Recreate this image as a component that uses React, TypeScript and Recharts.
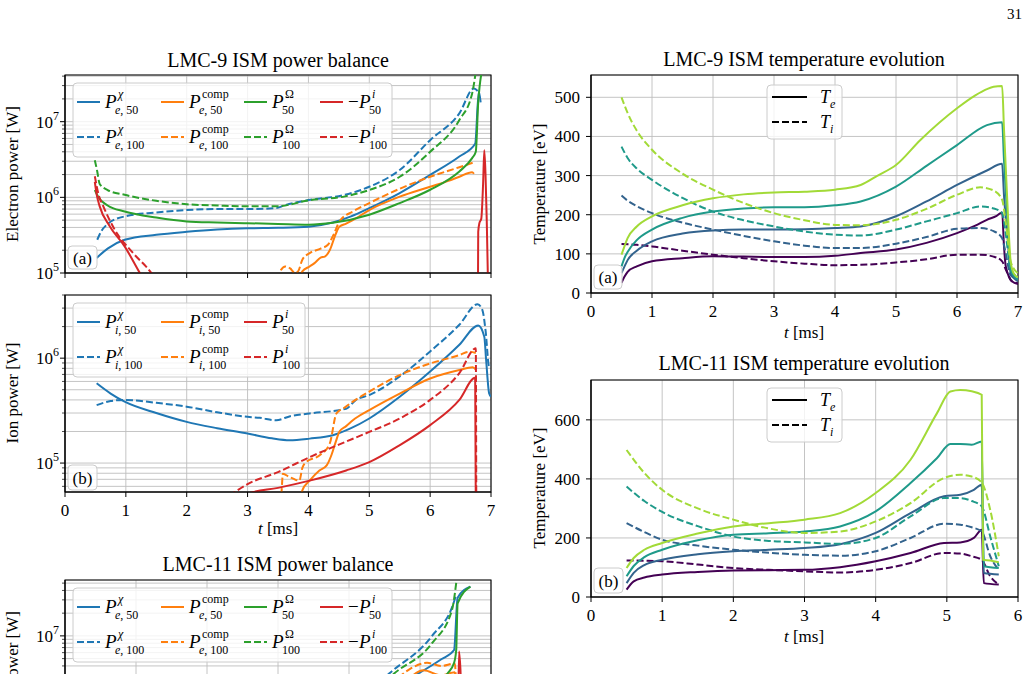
import { LineChart, Line, XAxis, YAxis, CartesianGrid, ReferenceArea } from 'recharts';

type Pt = [number, number];

// LMC-9, electron power balance [W] vs t [ms]
const eChi50: Pt[] = [[0.52, 1.58e5], [0.7, 2.1e5], [0.98, 2.75e5], [1.5, 3.2e5], [2, 3.5e5], [2.5, 3.75e5], [3, 3.9e5], [3.5, 3.95e5], [4, 4.1e5], [4.4, 4.65e5], [4.7, 5.6e5], [5, 7.2e5], [5.5, 1.14e6], [6, 1.98e6], [6.48, 3.47e6], [6.74, 5.1e6], [6.8, 2.5e7], [6.83, 1.8e7]];
const eChi100: Pt[] = [[0.53, 2.75e5], [0.6, 3.6e5], [0.68, 4.3e5], [0.98, 5.6e5], [1.5, 6.3e5], [2, 6.8e5], [2.5, 7e5], [3, 7e5], [3.47, 7.2e5], [3.6, 7.8e5], [4, 9.2e5], [4.6, 1.08e6], [5, 1.38e6], [5.5, 2.3e6], [6, 5.7e6], [6.48, 1.29e7], [6.72, 2.75e7], [6.79, 2.5e7]];
const eComp50: Pt[] = [[3.86, 8e4], [3.9, 1.05e5], [4.02, 1.22e5], [4.1, 1.35e5], [4.2, 1.6e5], [4.27, 1.65e5], [4.35, 2.0e5], [4.45, 3.3e5], [4.51, 4.1e5], [4.62, 4.5e5], [4.73, 5e5], [5, 6.8e5], [5.5, 1.02e6], [6, 1.38e6], [6.3, 1.65e6], [6.48, 1.87e6], [6.69, 2.15e6], [6.72, 2.05e6]];
const eComp100: Pt[] = [[3.52, 8e4], [3.55, 1.1e5], [3.62, 1.22e5], [3.7, 1.15e5], [3.78, 1.0e5], [3.83, 1.05e5], [3.9, 1.5e5], [4.02, 1.83e5], [4.2, 2.1e5], [4.32, 2.36e5], [4.42, 3.3e5], [4.51, 4.8e5], [4.73, 6.5e5], [5, 8.4e5], [5.5, 1.3e6], [6, 1.87e6], [6.48, 2.5e6], [6.72, 2.9e6]];
const eOhm50: Pt[] = [[0.49, 1.25e6], [0.55, 1.0e6], [0.7, 7.8e5], [0.98, 6.5e5], [1.5, 5.4e5], [2, 4.8e5], [2.5, 4.65e5], [3, 4.55e5], [3.5, 4.45e5], [4, 4.35e5], [4.4, 4.6e5], [5, 5.9e5], [5.5, 8.4e5], [6, 1.26e6], [6.48, 2.2e6], [6.69, 3.3e6], [6.75, 4e6], [6.79, 1.8e7], [6.88, 6e7]];
const eOhm100: Pt[] = [[0.49, 3.1e6], [0.53, 2.2e6], [0.57, 1.5e6], [0.7, 1.25e6], [0.98, 1.08e6], [1.5, 9e5], [2, 8.1e5], [2.5, 7.8e5], [3, 7.6e5], [3.47, 7.6e5], [4, 9.1e5], [4.6, 1.03e6], [5, 1.25e6], [5.5, 1.87e6], [6, 4e6], [6.48, 1.05e7], [6.69, 2.36e7], [6.77, 6e7]];
const eIon50a: Pt[] = [[0.49, 1.6e6], [0.52, 1.1e6], [0.57, 7.6e5], [0.74, 4.1e5], [0.98, 2.25e5], [1.23, 1e5], [1.4, 6e4]];
const eIon50b: Pt[] = [[6.785, 5e4], [6.79, 3.5e5], [6.81, 4.6e5], [6.84, 5.2e5], [6.87, 1.5e6], [6.89, 4.2e6], [6.91, 2e6], [6.93, 5e5], [6.955, 5e4]];
const eIon100: Pt[] = [[0.49, 1.9e6], [0.55, 1.1e6], [0.63, 7.6e5], [0.82, 3.7e5], [1.12, 1.83e5], [1.42, 1e5], [1.6, 6e4]];

// LMC-9, ion power balance [W]
const iChi50: Pt[] = [[0.52, 5.76e5], [0.75, 4.6e5], [0.98, 3.85e5], [1.5, 3e5], [2, 2.47e5], [2.5, 2.15e5], [3, 1.91e5], [3.4, 1.72e5], [3.69, 1.65e5], [4.02, 1.71e5], [4.4, 1.84e5], [4.7, 2.15e5], [5, 2.66e5], [5.5, 4.28e5], [6, 7.45e5], [6.48, 1.34e6], [6.79, 2.05e6], [6.89, 1.6e6], [6.92, 9.6e5], [6.97, 4.6e5], [7, 4.3e5]];
const iChi100: Pt[] = [[0.52, 3.57e5], [0.75, 3.9e5], [0.98, 4e5], [1.5, 3.75e5], [2, 3.45e5], [2.5, 3.05e5], [3, 2.76e5], [3.2, 2.7e5], [3.47, 2.56e5], [3.7, 2.8e5], [4.02, 2.97e5], [4.62, 3.3e5], [4.78, 4.0e5], [5, 4.45e5], [5.5, 6.7e5], [6, 1.16e6], [6.48, 2.08e6], [6.78, 3.27e6], [6.86, 2.86e6], [6.91, 1.85e6], [6.97, 8.3e5], [7, 8.5e5]];
const iComp50: Pt[] = [[3.87, 4e4], [3.9, 5.5e4], [4.02, 6.8e4], [4.18, 8.5e4], [4.3, 9.5e4], [4.38, 1.2e5], [4.45, 1.6e5], [4.51, 2.0e5], [4.62, 2.25e5], [4.73, 2.56e5], [5, 3.2e5], [5.5, 4.6e5], [6, 6.4e5], [6.48, 7.7e5], [6.7, 8.2e5], [6.75, 7.8e5]];
const iComp100: Pt[] = [[3.54, 4e4], [3.56, 5.5e4], [3.58, 7.9e4], [3.68, 7.4e4], [3.75, 7.1e4], [3.85, 6.8e4], [3.9, 9e4], [3.96, 1.02e5], [4.18, 1.18e5], [4.35, 1.53e5], [4.46, 2.97e5], [4.6, 3.4e5], [4.73, 3.85e5], [5, 4.8e5], [5.5, 6.9e5], [6, 8.9e5], [6.48, 1.07e6], [6.64, 1.15e6], [6.75, 1.12e6]];
const iIon50: Pt[] = [[2.9, 4.6e4], [3, 5.1e4], [3.5, 5.8e4], [4.02, 6.8e4], [4.62, 8.5e4], [5, 1.02e5], [5.5, 1.48e5], [6, 2.3e5], [6.48, 4e5], [6.74, 6.5e5], [6.755, 1e4]];
const iIon100: Pt[] = [[2.7, 4.9e4], [2.79, 5.3e4], [3, 6.3e4], [3.5, 8.2e4], [4.02, 1.14e5], [4.5, 1.5e5], [5, 1.98e5], [5.5, 2.66e5], [6, 4e5], [6.48, 7.2e5], [6.75, 1.24e6], [6.76, 1e4]];

// LMC-11, electron power balance [W]
const fChi50: Pt[] = [[4.3, 1.5e6], [4.7, 2.3e6], [5.03, 3.4e6], [5.3, 4.9e6], [5.48, 6.5e6], [5.53, 3.2e7], [5.71, 4.5e7]];
const fChi100: Pt[] = [[4.0, 1.1e6], [4.57, 3.2e6], [5.17, 1e7], [5.48, 2.85e7], [5.5, 3.3e7]];
const fComp50: Pt[] = [[4.7, 1.8e6], [5.05, 3.5e6], [5.3, 3e6], [5.49, 3.3e6], [5.52, 1e6]];
const fComp100: Pt[] = [[4.5, 1.8e6], [4.85, 3.6e6], [5.1, 4.4e6], [5.3, 4e6], [5.49, 4.3e6], [5.52, 1e6]];
const fOhm50: Pt[] = [[4.6, 1.1e6], [5.0, 1.8e6], [5.39, 3.2e6], [5.48, 4.4e6], [5.51, 6.5e6], [5.53, 2.7e7], [5.71, 4.5e7]];
const fOhm100: Pt[] = [[4.1, 1.1e6], [4.64, 3.2e6], [5.17, 8e6], [5.45, 2.2e7], [5.52, 6e7]];
const fIon50: Pt[] = [[5.535, 1e6], [5.55, 6.2e6], [5.57, 3.5e6], [5.59, 1e6]];

// LMC-9 temperatures [eV], four cases each (dark -> light)
const teA: Pt[][] = [
  [[0.5, 26], [0.55, 42], [0.6, 54], [0.75, 68], [1, 81], [1.5, 89], [2, 94], [2.5, 93], [3, 92], [3.5, 92], [4, 95], [4.42, 102], [5, 111], [5.5, 128], [6, 153], [6.3, 172], [6.49, 187], [6.65, 197], [6.74, 206], [6.77, 120], [6.8, 68], [6.9, 30], [7, 23]],
  [[0.5, 51], [0.55, 68], [0.6, 84], [0.75, 108], [1, 132], [1.5, 152], [2, 160], [2.5, 162], [3, 162], [3.5, 163], [4, 166], [4.42, 170], [5, 196], [5.5, 234], [6, 276], [6.49, 313], [6.74, 330], [6.77, 250], [6.83, 140], [6.88, 50], [7, 30]],
  [[0.5, 68], [0.55, 90], [0.6, 105], [0.75, 135], [1, 162], [1.5, 192], [2, 208], [2.5, 216], [3, 219], [3.5, 219], [4, 224], [4.42, 234], [5, 272], [5.5, 325], [6, 378], [6.49, 429], [6.74, 436], [6.77, 340], [6.83, 180], [6.88, 60], [6.95, 40], [7, 35]],
  [[0.5, 98], [0.55, 120], [0.6, 140], [0.75, 170], [1, 196], [1.5, 224], [2, 242], [2.5, 252], [3, 257], [3.5, 259], [4, 264], [4.42, 276], [4.7, 300], [5, 327], [5.4, 391], [6, 472], [6.3, 505], [6.49, 521], [6.6, 527], [6.74, 529], [6.77, 420], [6.82, 250], [6.88, 80], [6.93, 50], [7, 40]],
];
const tiA: Pt[][] = [
  [[0.5, 125], [0.75, 123], [1, 119], [1.5, 108], [2, 98], [2.5, 89], [3, 81], [3.5, 75], [4, 71], [4.42, 72], [5, 78], [5.5, 86], [6, 98], [6.38, 98], [6.6, 93], [6.74, 81], [6.8, 60], [6.9, 30], [7, 25]],
  [[0.5, 249], [0.6, 236], [0.75, 222], [1, 204], [1.5, 180], [2, 162], [2.5, 146], [3, 132], [3.5, 121], [4, 115], [4.42, 115], [5, 126], [5.5, 143], [6, 164], [6.38, 166], [6.6, 158], [6.74, 140], [6.8, 100], [6.88, 45], [7, 35]],
  [[0.5, 374], [0.6, 345], [0.75, 318], [1, 289], [1.5, 243], [2, 208], [2.5, 186], [3, 170], [3.5, 157], [4, 149], [4.42, 147], [5, 162], [5.5, 183], [6, 204], [6.38, 221], [6.6, 216], [6.74, 204], [6.8, 150], [6.88, 60], [7, 40]],
  [[0.5, 500], [0.6, 460], [0.75, 415], [1, 366], [1.5, 305], [2, 264], [2.5, 230], [3, 204], [3.5, 186], [4, 174], [4.42, 173], [5, 187], [5.5, 215], [6, 251], [6.38, 270], [6.6, 262], [6.74, 238], [6.8, 180], [6.88, 80], [7, 50]],
];

// LMC-11 temperatures [eV]
const teB: Pt[][] = [
  [[0.5, 25], [0.6, 53], [0.75, 66], [1, 76], [1.5, 85], [2, 90], [2.5, 91], [3, 92], [3.5, 101], [4, 121], [4.49, 149], [4.96, 183], [5.19, 185], [5.38, 200], [5.49, 228], [5.52, 47], [5.73, 42]],
  [[0.5, 47], [0.6, 82], [0.75, 108], [1, 126], [1.5, 145], [2, 155], [2.5, 160], [3, 166], [3.5, 179], [4, 217], [4.49, 284], [4.96, 341], [5.19, 346], [5.38, 363], [5.49, 380], [5.52, 81], [5.73, 76]],
  [[0.5, 70], [0.6, 105], [0.75, 135], [1, 160], [1.5, 192], [2, 211], [2.5, 216], [3, 222], [3.5, 239], [4, 290], [4.49, 386], [4.86, 470], [5.05, 518], [5.19, 518], [5.35, 516], [5.49, 527], [5.52, 104], [5.73, 98]],
  [[0.5, 98], [0.6, 132], [0.75, 160], [1, 183], [1.5, 215], [2, 239], [2.5, 250], [3, 262], [3.5, 284], [4, 352], [4.49, 465], [4.86, 622], [5.05, 696], [5.19, 701], [5.35, 697], [5.49, 685], [5.51, 126], [5.61, 124], [5.73, 118]],
];
const tiB: Pt[][] = [
  [[0.5, 124], [0.75, 123], [1, 121], [1.5, 110], [2, 98], [2.5, 92], [3, 87], [3.5, 83], [4, 92], [4.49, 115], [4.96, 149], [5.19, 147], [5.35, 138], [5.49, 126], [5.61, 70], [5.73, 42]],
  [[0.5, 250], [0.75, 220], [1, 194], [1.5, 174], [2, 160], [2.5, 150], [3, 143], [3.5, 140], [4, 155], [4.49, 200], [4.96, 248], [5.19, 245], [5.35, 236], [5.49, 222], [5.61, 138], [5.73, 92]],
  [[0.5, 374], [0.75, 325], [1, 288], [1.5, 240], [2, 205], [2.5, 190], [3, 185], [3.5, 180], [4, 200], [4.49, 273], [4.96, 335], [5.19, 335], [5.35, 325], [5.49, 307], [5.61, 205], [5.73, 104]],
  [[0.5, 498], [0.75, 420], [1, 363], [1.5, 300], [2, 262], [2.5, 232], [3, 217], [3.5, 222], [4, 256], [4.49, 318], [4.96, 403], [5.19, 414], [5.35, 408], [5.49, 388], [5.61, 295], [5.73, 138]],
];

const tempTicksA = [0, 100, 200, 300, 400, 500];
const tempTicksB = [0, 200, 400, 600];

const C = { blue: '#1f77b4', orange: '#ff7f0e', green: '#2ca02c', red: '#d62728' };
const viridis = ['#440154', '#33638d', '#1f9a8a', '#a2da37'];
const serif = '"Liberation Serif", "Times New Roman", Times, serif';
const GRID = '#bdbdbd';

type S = { pts: Pt[]; color: string; dash?: boolean };

const rows = (pts: Pt[]) => pts.map(([t, v]) => ({ t, v }));
const upTo = (n: number) => Array.from({ length: n + 1 }, (_, i) => i);

function logTicks(lo: number, hi: number) {
  const out: number[] = [];
  for (let e = Math.floor(Math.log10(lo)); e <= Math.ceil(Math.log10(hi)); e++) {
    for (let m = 1; m <= 9; m++) {
      const v = m * 10 ** e;
      if (v >= lo * 0.999 && v <= hi * 1.001) out.push(v);
    }
  }
  return out;
}

function LogTick({ x, y, payload }: any) {
  const p = Math.log10(payload.value);
  const major = Math.abs(p - Math.round(p)) < 1e-9;
  return (
    <g>
      <line x1={x} x2={x - (major ? 5 : 3)} y1={y} y2={y} stroke="#000" strokeWidth={major ? 1 : 0.7} />
      {major && (
        <text x={x - 6} y={y + 6} textAnchor="end" fontFamily={serif} fontSize={17} fill="#000">
          10<tspan dy={-8} fontSize={12}>{Math.round(p)}</tspan>
        </text>
      )}
    </g>
  );
}

type PanelProps = {
  x: number; y: number; w: number; h: number;
  xMax: number; yDomain: [number, number]; log?: boolean; yTicks: number[];
  series: S[]; xLabels?: boolean;
};

function Panel({ x, y, w, h, xMax, yDomain, log, yTicks, series, xLabels }: PanelProps) {
  const ml = 70;
  const mt = 10;
  return (
    <div style={{ position: 'absolute', left: x - ml, top: y - mt }}>
      <LineChart width={w + ml + 10} height={h + mt + 40} margin={{ top: mt, right: 10, bottom: 0, left: 0 }}>
        <CartesianGrid stroke={GRID} strokeWidth={0.9} />
        <XAxis
          type="number" dataKey="t" domain={[0, xMax]} ticks={upTo(xMax)} interval={0}
          allowDataOverflow height={40} tickSize={5} tickMargin={7}
          stroke="#000" axisLine={{ stroke: '#000', strokeWidth: 1.1 }}
          tick={{ fontSize: 17, fontFamily: serif, fill: '#000' }}
          tickFormatter={xLabels ? (v: number) => String(v) : () => ''}
        />
        {log ? (
          <YAxis
            type="number" dataKey="v" scale="log" domain={yDomain} ticks={yTicks} interval={0}
            allowDataOverflow width={ml} tickSize={0} tickMargin={0} tickLine={false}
            axisLine={{ stroke: '#000', strokeWidth: 1.1 }} tick={LogTick}
          />
        ) : (
          <YAxis
            type="number" dataKey="v" domain={yDomain} ticks={yTicks} interval={0}
            allowDataOverflow width={ml} tickSize={5} tickMargin={6}
            stroke="#000" axisLine={{ stroke: '#000', strokeWidth: 1.1 }}
            tick={{ fontSize: 17, fontFamily: serif, fill: '#000' }}
          />
        )}
        {series.map((s, i) => (
          <Line
            key={i} data={rows(s.pts)} dataKey="v" type="monotone"
            stroke={s.color} strokeWidth={2} strokeDasharray={s.dash ? '7 3' : undefined}
            dot={false} activeDot={false} isAnimationActive={false}
          />
        ))}
        <ReferenceArea x1={0} x2={xMax} y1={yDomain[0]} y2={yDomain[1]} fill="none" stroke="#000" strokeWidth={1.1} />
      </LineChart>
    </div>
  );
}

// legend label: P (or T) with stacked super/subscript
function Sym({ x, y, base, neg, sup, supItalic, subI, sub, big = 19, small = 12 }: any) {
  const x0 = x + (neg ? 11 : 0);
  return (
    <text x={x} y={y} fontFamily={serif} fontSize={big} fill="#000">
      {neg ? '−' : null}
      <tspan x={x0} fontStyle="italic">{base}</tspan>
      {sup ? <tspan x={x0 + 13} dy={-10} fontSize={small} fontStyle={supItalic ? 'italic' : 'normal'}>{sup}</tspan> : null}
      <tspan x={x0 + 10} dy={sup ? 16 : 5} fontSize={small}>
        {subI ? <tspan fontStyle="italic">{subI}</tspan> : null}
        {sub}
      </tspan>
    </text>
  );
}

function Handle({ x, y, len, color, dash }: any) {
  return <line x1={x} x2={x + len} y1={y} y2={y} stroke={color} strokeWidth={2} strokeDasharray={dash ? '7 3' : undefined} />;
}

function Box({ x, y, w, h }: any) {
  return <rect x={x} y={y} width={w} height={h} rx={4} fill="#fff" fillOpacity={0.8} stroke="#cccccc" strokeWidth={1} />;
}

function Tag({ x, y, w, h, label }: any) {
  return (
    <g>
      <Box x={x} y={y} w={w} h={h} />
      <text x={x + w / 2} y={y + h / 2 + 6} textAnchor="middle" fontFamily={serif} fontSize={17}>{label}</text>
    </g>
  );
}

// four-column power legend (three columns on the ion panel)
function PowerLegend({ top, ion }: { top: number; ion?: boolean }) {
  const cols = [77, 161, 244, 320];
  const r = [top + 19, top + 54];
  const s = ion ? 'i' : 'e';
  const entries = [
    { color: C.blue, sup: 'χ', supItalic: true },
    { color: C.orange, sup: 'comp' },
    ...(ion ? [] : [{ color: C.green, sup: 'Ω' }]),
    { color: C.red, sup: 'i', supItalic: true, neg: !ion },
  ];
  const sub = (k: number, n: string) => (k < 2 ? { subI: s, sub: `, ${n}` } : { sub: n });
  return (
    <g>
      <Box x={73} y={top} w={ion ? 232 : 319} h={74} />
      {entries.map((e, k) =>
        ['50', '100'].map((n, j) => (
          <g key={`${k}-${j}`}>
            <Handle x={cols[k]} y={r[j]} len={23} color={e.color} dash={j === 1} />
            <Sym x={cols[k] + 28} y={r[j] + 6} base="P" neg={e.neg} sup={e.sup} supItalic={e.supItalic} {...sub(k, n)} />
          </g>
        )),
      )}
    </g>
  );
}

function TempLegend({ top }: { top: number }) {
  return (
    <g>
      <Box x={767} y={top} w={75} h={54} />
      <Handle x={772} y={top + 12} len={35} color="#000" />
      <Handle x={772} y={top + 37} len={35} color="#000" dash />
      <Sym x={820} y={top + 18} base="T" subI="e" sub="" big={18} />
      <Sym x={820} y={top + 43} base="T" subI="i" sub="" big={18} />
    </g>
  );
}

const panelA: S[] = [
  { pts: eChi50, color: C.blue }, { pts: eChi100, color: C.blue, dash: true },
  { pts: eComp50, color: C.orange }, { pts: eComp100, color: C.orange, dash: true },
  { pts: eOhm50, color: C.green }, { pts: eOhm100, color: C.green, dash: true },
  { pts: eIon50a, color: C.red }, { pts: eIon50b, color: C.red }, { pts: eIon100, color: C.red, dash: true },
];
const panelB: S[] = [
  { pts: iChi50, color: C.blue }, { pts: iChi100, color: C.blue, dash: true },
  { pts: iComp50, color: C.orange }, { pts: iComp100, color: C.orange, dash: true },
  { pts: iIon50, color: C.red }, { pts: iIon100, color: C.red, dash: true },
];
const panelC: S[] = [
  { pts: fChi50, color: C.blue }, { pts: fChi100, color: C.blue, dash: true },
  { pts: fComp50, color: C.orange }, { pts: fComp100, color: C.orange, dash: true },
  { pts: fOhm50, color: C.green }, { pts: fOhm100, color: C.green, dash: true },
  { pts: fIon50, color: C.red },
];
const temps = (te: Pt[][], ti: Pt[][]): S[] =>
  viridis.flatMap((c, i) => [{ pts: te[i], color: c }, { pts: ti[i], color: c, dash: true }]);

const domA: [number, number] = [1e5, 4.14e7];
const domB: [number, number] = [5.3e4, 4e6];
const domC: [number, number] = [1.31e5, 5.5e7];

export default function App() {
  return (
    <div style={{ position: 'absolute', left: 0, top: 0, width: 1028, height: 674, overflow: 'hidden', background: '#fff' }}>
      <Panel x={65} y={75} w={426} h={198} xMax={7} yDomain={domA} log yTicks={logTicks(...domA)} series={panelA} />
      <Panel x={65} y={295} w={426} h={197} xMax={7} yDomain={domB} log yTicks={logTicks(...domB)} series={panelB} xLabels />
      {/* lower panel runs off the page; only ticks in the visible part are kept */}
      <Panel x={65} y={580} w={426} h={198} xMax={6} yDomain={domC} log yTicks={logTicks(3e6, domC[1])} series={panelC} />
      <Panel x={591} y={75} w={427} h={218} xMax={7} yDomain={[0, 557]} yTicks={tempTicksA} series={temps(teA, tiA)} xLabels />
      <Panel x={591} y={380} w={427} h={217} xMax={6} yDomain={[0, 735]} yTicks={tempTicksB} series={temps(teB, tiB)} xLabels />

      <svg width={1028} height={674} style={{ position: 'absolute', left: 0, top: 0 }} fontFamily={serif}>
        <text x={1022} y={19} textAnchor="end" fontSize={15}>31</text>

        <text x={278} y={67} textAnchor="middle" fontSize={20}>LMC-9 ISM power balance</text>
        <text x={804} y={66} textAnchor="middle" fontSize={20}>LMC-9 ISM temperature evolution</text>
        <text x={278} y={571} textAnchor="middle" fontSize={20}>LMC-11 ISM power balance</text>
        <text x={804} y={370} textAnchor="middle" fontSize={20}>LMC-11 ISM temperature evolution</text>

        <text transform="translate(18,174) rotate(-90)" textAnchor="middle" fontSize={17}>Electron power [W]</text>
        <text transform="translate(18,393) rotate(-90)" textAnchor="middle" fontSize={17}>Ion power [W]</text>
        <text transform="translate(18,679) rotate(-90)" textAnchor="middle" fontSize={17}>Electron power [W]</text>
        <text transform="translate(545,184) rotate(-90)" textAnchor="middle" fontSize={17}>Temperature [eV]</text>
        <text transform="translate(545,488) rotate(-90)" textAnchor="middle" fontSize={17}>Temperature [eV]</text>

        <text x={278} y={534} textAnchor="middle" fontSize={17}><tspan fontStyle="italic">t</tspan> [ms]</text>
        <text x={804} y={338} textAnchor="middle" fontSize={17}><tspan fontStyle="italic">t</tspan> [ms]</text>
        <text x={804} y={642} textAnchor="middle" fontSize={17}><tspan fontStyle="italic">t</tspan> [ms]</text>

        <PowerLegend top={83} />
        <PowerLegend top={303} ion />
        <PowerLegend top={588} />
        <TempLegend top={85} />
        <TempLegend top={388} />

        <Tag x={68} y={246} w={29} h={23} label="(a)" />
        <Tag x={68} y={465} w={29} h={25} label="(b)" />
        <Tag x={594} y={265} w={28} h={24} label="(a)" />
        <Tag x={594} y={568} w={29} h={25} label="(b)" />
      </svg>
    </div>
  );
}
